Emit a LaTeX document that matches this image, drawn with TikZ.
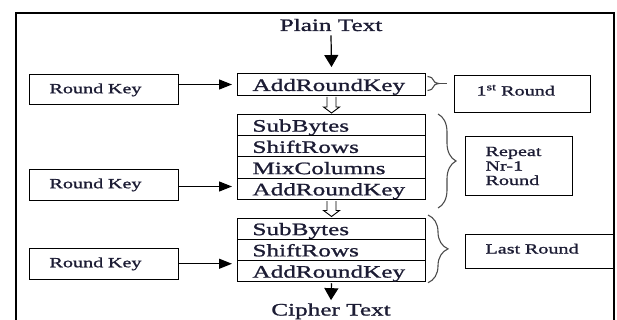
\documentclass[tikz,border=0pt]{standalone}
\usepackage{fontspec}
\setmainfont{Liberation Serif}[FakeStretch=1.44,FakeBold=1.2]
\usetikzlibrary{calc,arrows.meta,decorations.pathreplacing}
\definecolor{ink}{RGB}{28,28,52}
\newcommand\hollowarrow[2]{%
  \draw[line width=0.9pt] ($(#1.south)+(-4.5,1)$) -- ($(#2.north)+(-4.5,-7)$) -- ($(#2.north)+(-8,-7)$) -- ($(#2.north)+(0,-1)$) -- ($(#2.north)+(8,-7)$) -- ($(#2.north)+(4.5,-7)$) -- ($(#1.south)+(4.5,1)$);}
\begin{document}
\begin{tikzpicture}[x=1pt,y=-1pt,
  big/.style={font=\fontsize{17.5}{20}\selectfont, text=ink},
  small/.style={font=\fontsize{14}{14.5}\selectfont, text=ink},
  row/.style={draw, line width=1pt, big, minimum width=188pt, minimum height=21.25pt,
    inner xsep=15pt, inner ysep=0pt, text width=158pt, align=left,
    text height=13pt, text depth=0pt, anchor=north west},
  rk/.style={draw, line width=1pt, small, minimum width=149pt, minimum height=30.5pt,
    inner xsep=20pt, inner ysep=0pt, text width=109pt, align=left,
    text height=10pt, text depth=3pt, anchor=north west},
  sidebox/.style={draw, line width=1pt, small, inner ysep=0pt, align=left, anchor=north west},
  varr/.style={line width=1.2pt, -{Triangle[length=12pt, width=14pt]}},
  harr/.style={line width=1.2pt, -{Triangle[length=13pt, width=10pt]}},
  brc/.style={decorate, line width=1.1pt, draw=black!70},
  frame/.style={line width=1.7pt}
]
\useasboundingbox (0,0) rectangle (617,320);
% outer frame (open at the bottom)
\draw[frame] (15.7,322) -- (15.7,13) -- (614.3,13) -- (614.3,322);

% texts in and out
\node[big, anchor=base, inner sep=0pt] (plain) at (331,31) {Plain Text};
\node[big, anchor=base, inner sep=0pt] (cipher) at (331,315.5) {Cipher Text};

% central column
\node[row, minimum height=22pt] (ark1) at (237,73) {AddRoundKey};
\node[row] (b2r1) at (237,114) {SubBytes};
\node[row] (b2r2) at (237,135.25) {ShiftRows};
\node[row] (b2r3) at (237,156.5) {MixColumns};
\node[row] (b2r4) at (237,177.75) {AddRoundKey};
\node[row] (b3r1) at (237,217.5) {SubBytes};
\node[row] (b3r2) at (237,238.75) {ShiftRows};
\node[row] (b3r3) at (237,260) {AddRoundKey};

% round keys
\node[rk] (rk1) at (29,74) {Round Key};
\node[rk] (rk2) at (29,169) {Round Key};
\node[rk] (rk3) at (29,248) {Round Key};

% side labels
\node[sidebox, minimum width=136pt, minimum height=37pt, inner xsep=22pt, text width=92pt,
  text height=8pt, text depth=5pt] (first) at (454,75) {1\textsuperscript{st} Round};
\node[sidebox, minimum width=107pt, minimum height=59pt, inner xsep=20pt, text width=67pt]
  (rep) at (465,136) {Repeat\\Nr-1\\Round};
\node[sidebox, minimum width=148pt, minimum height=34pt, inner xsep=20pt, text width=108pt,
  text height=8.5pt, text depth=4.5pt] (last) at (465,234) {Last Round};

% vertical arrows
\draw[varr] ($(plain.south)+(0,4)$) -- ($(ark1.north)+(0,-6)$);
\draw[varr] ($(b3r3.south)+(0,1)$) -- ($(cipher.north)+(0,-3)$);
\hollowarrow{ark1}{b2r1}
\hollowarrow{b2r4}{b3r1}

% key arrows
\draw[harr] (rk1.east |- ark1.west) -- ($(ark1.west)+(-5,0)$);
\coordinate (a2) at ($(rk2.east)+(0,1.75)$);
\draw[harr] (a2) -- ($(a2 -| b2r4.west)+(-5,0)$);
\draw[harr] (rk3.east) -- ($(rk3.east -| b3r3.west)+(-5,0)$);

% braces
\draw[brc, decoration={brace, amplitude=11.5pt}] ($(ark1.north east)+(1.5,3.5)$) -- ($(ark1.south east)+(1.5,-5.5)$);
\coordinate (t1) at ($(ark1.east)+(13,-1)$);
\draw[line width=1pt, draw=black!70] (t1) -- ($(t1 -| first.west)+(-7,0)$);
\draw[brc, decoration={brace, amplitude=18pt}] ($(b2r1.north east)+(12,0)$) -- ($(b2r4.south east)+(12,8)$);
\draw[brc, decoration={brace, amplitude=20pt}] ($(b3r1.north east)+(2,-2.5)$) -- ($(b3r3.south east)+(2,0.5)$);
\end{tikzpicture}
\end{document}
